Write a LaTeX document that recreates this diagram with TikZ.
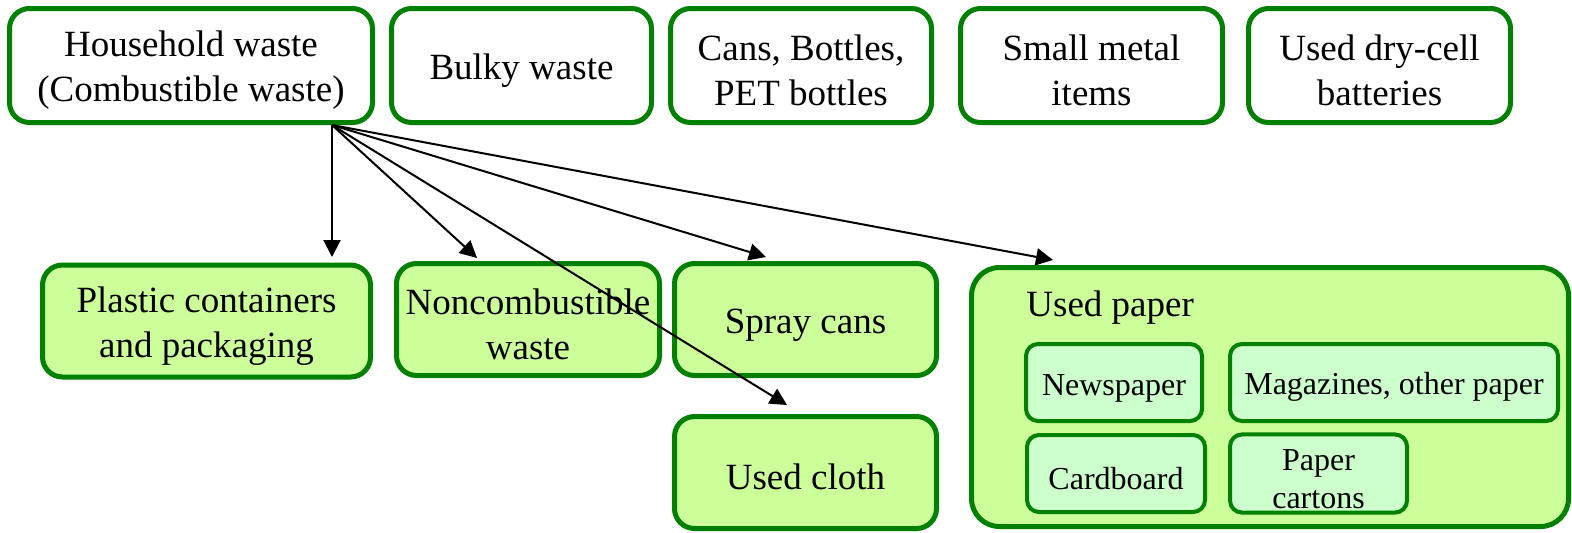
\documentclass[tikz,border=0pt]{standalone}
\usepackage{fontspec}
\setmainfont{Liberation Serif}
\usepackage{xcolor}
\usetikzlibrary{arrows.meta}

\definecolor{bingreen}{RGB}{0,128,0}
\definecolor{binfill}{RGB}{204,255,153}
\definecolor{subfill}{RGB}{204,255,204}

\begin{document}
\begin{tikzpicture}[x=0.5pt,y=-0.5pt,
  srcbox/.style={rectangle,draw=bingreen,line width=2.5pt,fill=white,rounded corners=10pt,
                 minimum width=130pt,minimum height=57pt,inner sep=2pt,text height=17.6pt,
                 align=center,font=\rmfamily\fontsize{18.5}{22.5}\selectfont},
  binbox/.style={srcbox,fill=binfill,minimum height=56pt},
  twoline/.style={text height=40.1pt},
  subbox/.style={rectangle,draw=bingreen,line width=2pt,fill=subfill,rounded corners=6pt,
                 minimum width=88pt,minimum height=38.5pt,inner sep=2pt,text height=15.9pt,
                 align=center,font=\rmfamily\fontsize{16}{19}\selectfont},
  arrow/.style={-{Triangle[length=8.5pt,width=8.5pt]},line width=1pt}
]
\useasboundingbox (0,0) rectangle (1572,532);

% collection categories
\node[srcbox,twoline,minimum width=181.5pt] (hh) at (191,65.5) {Household waste\\(Combustible waste)};
\node[srcbox] (bulky) at (521.5,65.5) {Bulky waste};
\node[srcbox,twoline,minimum width=130.5pt] (cans)  at (801,65.5)    {Cans, Bottles,\\PET bottles};
\node[srcbox,twoline,minimum width=131pt]   (metal) at (1091.5,65.5) {Small metal\\items};
\node[srcbox,twoline,minimum width=131pt]   (cells) at (1379.5,65.5) {Used dry-cell\\batteries};

% separated out of household waste
\node[binbox,twoline,minimum width=164pt]   (plastic) at (206.5,321)   {Plastic containers\\and packaging};
\node[binbox,twoline,minimum width=131.5pt] (noncomb) at (528,319.5)   {Noncombustible\\waste};
\node[binbox,minimum width=131pt]   (spray)   at (805.5,319.5) {Spray cans};
\node[binbox,minimum width=131pt]   (cloth)   at (805.5,472.5) {Used cloth};

\node[binbox,minimum width=298.5pt,minimum height=129.5pt,rounded corners=14pt] (paper) at (1270,397) {};
\node[anchor=base west,inner sep=0pt,font=\rmfamily\fontsize{18.5}{22.5}\selectfont] (paperlbl) at (1026,316) {Used paper};
\node[subbox]                       (news)    at (1114,382.5)  {Newspaper};
\node[subbox,minimum width=164pt]   (mags)    at (1394,382.5)  {Magazines, other paper};
\node[subbox,minimum width=89pt]    (card)    at (1116,473.5)  {Cardboard};
\node[subbox,minimum width=88.5pt,text height=34.9pt] (cartons) at (1318.5,473.5) {Paper\\cartons};

\coordinate (src) at ([xshift=-21.5pt]hh.south east);
\coordinate (plasticin) at (src |- plastic.north);

\draw[arrow] (src) -- ([yshift=2.75pt]plasticin);
\draw[arrow] (src) -- ([xshift=-25.5pt,yshift=1.5pt]noncomb.north);
\draw[arrow] (src) -- ([xshift=-19.75pt,yshift=2pt]spray.north);
\draw[arrow] (src) -- ([xshift=-9.25pt,yshift=4.5pt]cloth.north);
\draw[arrow] (src) -- ([xshift=42pt,yshift=2.5pt]paper.north west);
\end{tikzpicture}
\end{document}
